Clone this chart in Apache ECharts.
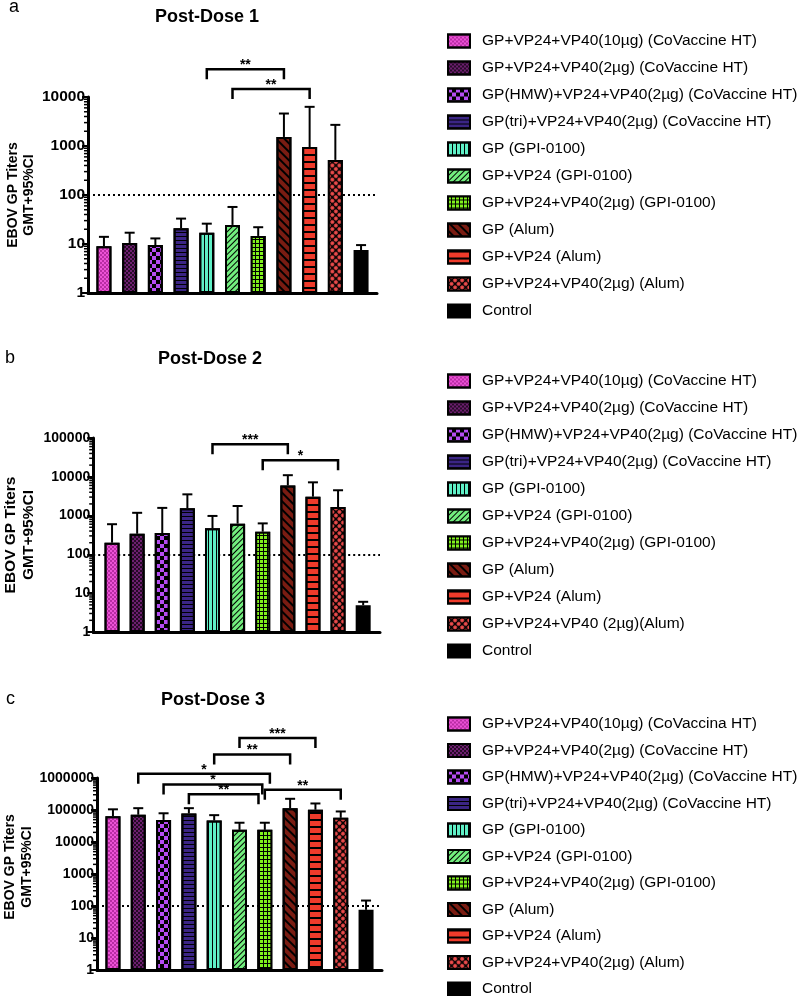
<!DOCTYPE html>
<html><head><meta charset="utf-8">
<script src="https://cdn.jsdelivr.net/npm/echarts@6/dist/echarts.min.js"></script>
<style>html,body{margin:0;padding:0;background:#fff}#chart{width:800px;height:996px}</style>
</head><body><div id="chart"></div>
<script>
// ---------------- DATA ----------------
const groupsDose1 = [
  'GP+VP24+VP40(10µg) (CoVaccine HT)',
  'GP+VP24+VP40(2µg) (CoVaccine HT)',
  'GP(HMW)+VP24+VP40(2µg) (CoVaccine HT)',
  'GP(tri)+VP24+VP40(2µg) (CoVaccine HT)',
  'GP (GPI-0100)',
  'GP+VP24 (GPI-0100)',
  'GP+VP24+VP40(2µg) (GPI-0100)',
  'GP (Alum)',
  'GP+VP24 (Alum)',
  'GP+VP24+VP40(2µg) (Alum)',
  'Control'
];
const groupsDose2 = [
  'GP+VP24+VP40(10µg) (CoVaccine HT)',
  'GP+VP24+VP40(2µg) (CoVaccine HT)',
  'GP(HMW)+VP24+VP40(2µg) (CoVaccine HT)',
  'GP(tri)+VP24+VP40(2µg) (CoVaccine HT)',
  'GP (GPI-0100)',
  'GP+VP24 (GPI-0100)',
  'GP+VP24+VP40(2µg) (GPI-0100)',
  'GP (Alum)',
  'GP+VP24 (Alum)',
  'GP+VP24+VP40 (2µg)(Alum)',
  'Control'
];
const groupsDose3 = [
  'GP+VP24+VP40(10µg) (CoVaccina HT)',
  'GP+VP24+VP40(2µg) (CoVaccine HT)',
  'GP(HMW)+VP24+VP40(2µg) (CoVaccine HT)',
  'GP(tri)+VP24+VP40(2µg) (CoVaccine HT)',
  'GP (GPI-0100)',
  'GP+VP24 (GPI-0100)',
  'GP+VP24+VP40(2µg) (GPI-0100)',
  'GP (Alum)',
  'GP+VP24 (Alum)',
  'GP+VP24+VP40(2µg) (Alum)',
  'Control'
];
// geometric mean titers (bar heights) and upper 95% CI (error bar tops)
const gmtDose1 = [9, 10.5, 9.5, 21, 17, 24.5, 14.6, 1530, 950, 520, 7.5];
const ciDose1  = [14, 17, 13, 33, 26, 57, 22, 4600, 6300, 2700, 9.5];
const gmtDose2 = [200, 340, 355, 1550, 470, 620, 385, 6000, 3070, 1660, 4.9];
const ciDose2  = [600, 1180, 1580, 3530, 980, 1770, 630, 11000, 7200, 4500, 6.0];
const gmtDose3 = [64000, 71000, 49000, 78000, 47000, 24000, 24000, 114000, 102000, 57000, 76];
const ciDose3  = [105000, 114000, 79000, 114000, 69000, 40000, 40000, 224000, 160000, 90000, 148];
// y-axis tick labels (major, one per decade) and minor-tick multiples inside each decade
const yTicksDose1 = [1, 10, 100, 1000, 10000];
const yTicksDose2 = [1, 10, 100, 1000, 10000, 100000];
const yTicksDose3 = [1, 10, 100, 1000, 10000, 100000, 1000000];
const minorTickMultiples = [2, 3, 4, 5, 6, 7, 8, 9];
// dotted reference line
const referenceTiter = 100;
// significance brackets: [from group, to group, bracket level (titer), label]
const sigDose1 = [[4, 7, 37000, '**'], [5, 8, 14600, '**']];
const sigDose2 = [[4, 7, 69000, '***'], [6, 9, 26600, '*']];
const sigDose3 = [
  [5, 8, 17800000, '***'],
  [4, 7, 5400000, '**'],
  [1, 6.2, 1360000, '*'],
  [2, 5.9, 630000, '*'],
  [3, 5.75, 310000, '**'],
  [6, 9, 430000, '**']
];

// ---------------- STYLE ----------------
const FONT = 'Liberation Sans, Arial, Helvetica, sans-serif';
const barColors = ['#ec52d6', '#6d1f6f', '#b64cf2', '#3b2585', '#5ff0c6', '#72ee7e', '#80f01c', '#7a1c12', '#ef3b2b', '#f04c4c', '#000000'];
const baseDecal = { symbol: 'rect', symbolSize: 1, symbolKeepAspect: false };
const barDecals = [
  { color: 'rgba(150,20,130,0.6)', dashArrayX: [[2, 2], [0, 2, 2, 0]], dashArrayY: [2, 0] },
  { color: 'rgba(0,0,0,0.65)', dashArrayX: [[2, 2], [0, 2, 2, 0]], dashArrayY: [2, 0] },
  { color: '#000', dashArrayX: [[4, 4], [0, 4, 4, 0]], dashArrayY: [4, 0] },
  { color: '#000', dashArrayX: [[10, 0]], dashArrayY: [1, 3] },
  { color: '#000', dashArrayX: [[1, 3]], dashArrayY: [10, 0] },
  { color: '#000', dashArrayX: [[1, 3]], dashArrayY: [10, 0], rotation: Math.PI / 4 },
  { color: '#80f01c', backgroundColor: '#000', dashArrayX: [[3, 1]], dashArrayY: [3, 1] },
  { color: '#000', dashArrayX: [[2, 4]], dashArrayY: [10, 0], rotation: -Math.PI / 4 },
  { color: '#000', dashArrayX: [[10, 0]], dashArrayY: [2, 5] },
  { symbol: 'circle', color: '#f04c4c', backgroundColor: '#000', dashArrayX: [[4, 1]], dashArrayY: [4, 1], rotation: Math.PI / 4 },
  null
].map(d => d ? Object.assign({}, baseDecal, d) : null);

const panels = [
  { letter: 'a', title: 'Post-Dose 1', groups: groupsDose1, gmt: gmtDose1, ci: ciDose1, ticks: yTicksDose1, sig: sigDose1,
    grid: { left: 88, top: 97, width: 289, height: 196 }, xMin: -0.62, xMax: 10.62,
    nameGap: 49, nameSize: 14, namePad: [0, 0, 0, 0], labelSize: 15.5,
    titleX: 207, titleTop: 8, letterX: 9, letterTop: -2, legendTop: 33, legendGap: 11 },
  { letter: 'b', title: 'Post-Dose 2', groups: groupsDose2, gmt: gmtDose2, ci: ciDose2, ticks: yTicksDose2, sig: sigDose2,
    grid: { left: 90, top: 438, width: 290, height: 194 }, xMin: -0.75, xMax: 10.67,
    nameGap: 55, nameSize: 15.5, namePad: [0, 0, 0, 0], labelSize: 14,
    titleX: 210, titleTop: 350, letterX: 5, letterTop: 349, legendTop: 373, legendGap: 11 },
  { letter: 'c', title: 'Post-Dose 3', groups: groupsDose3, gmt: gmtDose3, ci: ciDose3, ticks: yTicksDose3, sig: sigDose3,
    grid: { left: 97, top: 778, width: 285, height: 192 }, xMin: -0.63, xMax: 10.63,
    nameGap: 53, nameSize: 14, namePad: [0, 0, 0, 14], labelSize: 14,
    titleX: 213, titleTop: 691, letterX: 6, letterTop: 690, legendTop: 716, legendGap: 10.5 }
];

// ---------------- RENDERERS ----------------
function errRender(params, api) {
  const i = api.value(0);
  const base = api.coord([i, api.value(1)]);
  const top = api.coord([i, api.value(2)]);
  const cap = 5;
  return { type: 'group', children: [
    { type: 'line', shape: { x1: top[0], y1: base[1], x2: top[0], y2: top[1] }, style: { stroke: '#000', lineWidth: 2 } },
    { type: 'line', shape: { x1: top[0] - cap, y1: top[1], x2: top[0] + cap, y2: top[1] }, style: { stroke: '#000', lineWidth: 2 } }
  ] };
}
function minorTickRender(params, api) {
  const p = api.coord([api.value(0), api.value(1)]);
  return { type: 'line', shape: { x1: p[0] - 4, y1: p[1], x2: p[0], y2: p[1] }, style: { stroke: '#000', lineWidth: 1.5 } };
}
function makeBracketRender(sig) {
  return function (params, api) {
    const a = api.coord([api.value(0), api.value(2)]);
    const b = api.coord([api.value(1), api.value(2)]);
    const y = a[1], leg = 10;
    return { type: 'group', children: [
      { type: 'polyline', shape: { points: [[a[0], y + leg], [a[0], y], [b[0], y], [b[0], y + leg]] },
        style: { stroke: '#000', lineWidth: 2.5, fill: null } },
      { type: 'text', style: { text: sig[params.dataIndex][3], x: (a[0] + b[0]) / 2, y: y - 4,
        align: 'center', verticalAlign: 'middle', font: 'bold 14px ' + FONT, fill: '#000' } }
    ] };
  };
}

// ---------------- OPTION ----------------
const option = { animation: false, title: [], legend: [], grid: [], xAxis: [], yAxis: [], series: [] };

panels.forEach((p, k) => {
  option.title.push({ text: p.title, left: p.titleX, top: p.titleTop, textAlign: 'center', padding: 0,
    textStyle: { fontFamily: FONT, fontWeight: 'bold', fontSize: 18, color: '#000' } });
  option.title.push({ text: p.letter, left: p.letterX, top: p.letterTop, padding: 0,
    textStyle: { fontFamily: FONT, fontWeight: 'normal', fontSize: 18, color: '#000' } });
  option.grid.push(Object.assign({ containLabel: false }, p.grid));
  option.xAxis.push({ type: 'value', gridIndex: k, min: p.xMin, max: p.xMax,
    axisLine: { show: true, onZero: false, lineStyle: { color: '#000', width: 3 } },
    axisTick: { show: false }, axisLabel: { show: false }, splitLine: { show: false } });
  option.yAxis.push({ type: 'log', logBase: 10, gridIndex: k,
    min: p.ticks[0], max: p.ticks[p.ticks.length - 1],
    axisLine: { show: true, onZero: false, lineStyle: { color: '#000', width: 3 } },
    axisTick: { show: true, length: 6, lineStyle: { color: '#000', width: 2 } },
    minorTick: { show: false },
    splitLine: { show: false },
    axisLabel: { color: '#000', fontFamily: FONT, fontWeight: 'bold', fontSize: p.labelSize, margin: 3,
      formatter: v => String(Math.round(v)) },
    name: 'EBOV GP Titers\nGMT+95%CI', nameLocation: 'middle', nameRotate: 90, nameGap: p.nameGap,
    nameTextStyle: { color: '#000', fontFamily: FONT, fontWeight: 'bold', fontSize: p.nameSize,
      lineHeight: p.nameSize * 1.2, padding: p.namePad } });
  option.legend.push({ orient: 'vertical', left: 447, top: p.legendTop, padding: 0, height: 320,
    itemWidth: 22, itemHeight: 13, itemGap: p.legendGap,
    icon: 'rect', selectedMode: false, data: p.groups,
    textStyle: { fontFamily: FONT, fontSize: 15.5, color: '#000', padding: [0, 0, 0, 7] } });

  // dotted reference line (behind bars)
  option.series.push({ type: 'line', xAxisIndex: k, yAxisIndex: k, data: [], z: 1, silent: true,
    markLine: { silent: true, symbol: 'none', z: 1, label: { show: false },
      lineStyle: { color: '#000', width: 2, type: [2, 3] }, data: [{ yAxis: referenceTiter }] } });

  p.groups.forEach((name, i) => {
    option.series.push({ type: 'bar', name: name, xAxisIndex: k, yAxisIndex: k, barWidth: 15, barGap: '-100%', z: 3,
      data: [[i, p.gmt[i]]],
      itemStyle: { color: barColors[i], decal: barDecals[i] || undefined, borderColor: '#000', borderWidth: 2 } });
  });
  option.series.push({ type: 'custom', xAxisIndex: k, yAxisIndex: k, z: 2, silent: true, clip: false,
    encode: { x: 0, y: [1, 2] }, renderItem: errRender,
    data: p.groups.map((_, i) => [i, p.gmt[i], p.ci[i]]) });
  option.series.push({ type: 'custom', xAxisIndex: k, yAxisIndex: k, z: 4, silent: true, clip: false,
    encode: { x: [0, 1], y: 2 }, renderItem: makeBracketRender(p.sig),
    data: p.sig.map(s => [s[0], s[1], s[2]]) });
  // log-spaced minor ticks of the y axis (2..9 within each decade)
  const minorTicks = [];
  p.ticks.slice(0, -1).forEach(t => minorTickMultiples.forEach(m => minorTicks.push([p.xMin, m * t])));
  option.series.push({ type: 'custom', xAxisIndex: k, yAxisIndex: k, z: 5, silent: true, clip: false,
    encode: { x: 0, y: 1 }, renderItem: minorTickRender, data: minorTicks });
});

const chart = echarts.init(document.getElementById('chart'), null, { renderer: 'canvas' });
chart.setOption(option);
</script></body></html>
